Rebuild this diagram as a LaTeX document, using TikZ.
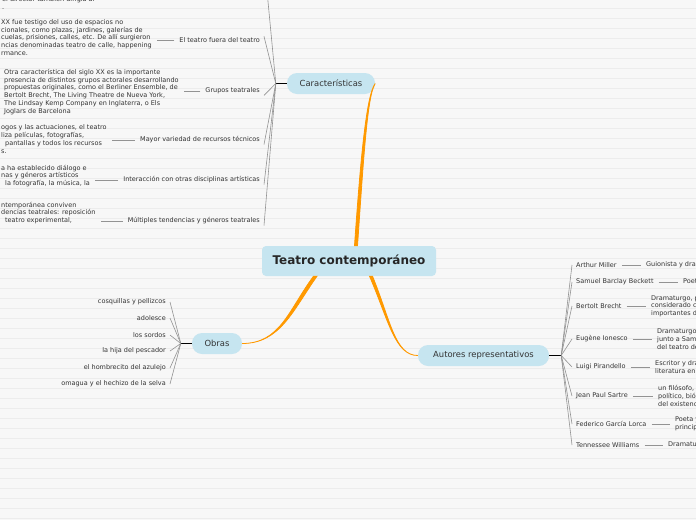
\documentclass[tikz,border=0pt]{standalone}
\usepackage{fontspec}
\setmainfont{DejaVu Sans}
\usetikzlibrary{positioning}
\definecolor{bluebox}{HTML}{C6E5F0}
\definecolor{branch}{HTML}{FF9900}
\definecolor{paper}{HTML}{F7F7F7}
\definecolor{rule}{HTML}{ECECEC}
\definecolor{ink}{HTML}{333333}
\tikzset{
  topic/.style={fill=bluebox, rounded corners=10pt, text=ink, minimum height=21pt,
    font=\fontsize{8.4}{10}\selectfont},
  leaf/.style={text=ink, font=\fontsize{6.5}{7.9}\selectfont, inner sep=1pt},
  note/.style={leaf, align=left, anchor=west},
  twig/.style={draw=gray!85, line width=0.6pt},
  bar/.style={line width=1.3pt},
  curl/.style={draw=branch, fill=branch, line width=0.8pt},
}

\begin{document}
\begin{tikzpicture}[x=1pt, y=-1pt]
    \useasboundingbox (0,0) rectangle (696,520);
    \fill[paper] (0,0) rectangle (696,520);
    \foreach \y in {8,18,...,518}
        \draw[rule, line width=0.5pt] (0,\y) -- (696,\y);

    % main topics
    \node[topic, minimum width=174pt, minimum height=30pt, rounded corners=4pt,
        text=black!85, font=\bfseries\fontsize{12}{14}\selectfont] (T) at (349,261) {Teatro contemporáneo};
    \node[topic, minimum width=88pt] (C) at (331,83.5) {Características};
    \node[topic, minimum width=50pt] (O) at (217,343.5) {Obras};
    \node[topic, minimum width=131pt] (A) at (483.5,355.5) {Autores representativos};

    % tapered branches
    \filldraw[curl] ([xshift=5.5pt]T.north) .. controls +(6,-86) and +(-9,12) .. (C.east)
        .. controls +(-8,12) and +(6,-86) .. ([xshift=8.5pt]T.north) -- cycle;
    \filldraw[curl] ([xshift=-35.5pt]T.south) .. controls +(-25,34) and +(38,0) .. (O.east)
        .. controls +(38,0) and +(-24,34) .. ([xshift=-32pt]T.south) -- cycle;
    \filldraw[curl] ([xshift=20.5pt]T.south) .. controls +(19,44) and +(-23,0) .. (A.west)
        .. controls +(-23,0) and +(18,44) .. ([xshift=23.5pt]T.south) -- cycle;

    % caracteristicas
    \coordinate (CJ) at ([xshift=-11pt]C.west);
    \draw[bar] (C.west) -- (CJ);
    \coordinate (C0) at (265,-30);
    \node[leaf, anchor=east] (C1) at (261,40) {El teatro fuera del teatro};
    \node[leaf, anchor=east] (C2) at (261,91) {Grupos teatrales};
    \node[leaf, anchor=east] (C3) at (261,140) {Mayor variedad de recursos técnicos};
    \node[leaf, anchor=east] (C4) at (261,180) {Interacción con otras disciplinas artísticas};
    \node[leaf, anchor=east] (C5) at (261,221) {Múltiples tendencias y géneros teatrales};
    \draw[twig] (CJ) -- (C0);
    \draw[twig] (CJ) -- ([xshift=3pt]C1.north east);
    \draw[twig] (CJ) -- ([xshift=3pt]C2.south east);
    \draw[twig] (CJ) -- ([xshift=3pt]C3.south east);
    \draw[twig] (CJ) -- ([xshift=3pt]C4.south east);
    \draw[twig] (CJ) -- ([xshift=3pt]C5.south east);

    \node[note] (D0) at (1,2.6) {el director también dirigía al\\.};
    \node[note] (D1) at (0,37.5) {XX fue testigo del uso de espacios no\\cionales, como plazas, jardines, galerías de\\cuelas, prisiones, calles, etc. De allí surgieron\\ncias denominadas teatro de calle, happening\\rmance.};
    \node[note] (D2) at (3,92) {Otra característica del siglo XX es la importante\\presencia de distintos grupos actorales desarrollando\\propuestas originales, como el Berliner Ensemble, de\\Bertolt Brecht, The Living Theatre de Nueva York,\\The Lindsay Kemp Company en Inglaterra, o Els\\Joglars de Barcelona};
    \node[note] (D3) at (0,139) {ogos y las actuaciones, el teatro\\liza películas, fotografías,\\\hspace*{4pt}pantallas y todos los recursos\\s.};
    \node[note] (D4) at (0,176) {a ha establecido diálogo e\\nas y géneros artísticos\\\hspace*{4pt}la fotografía, la música, la};
    \node[note] (D5) at (0,213) {ntemporánea conviven\\dencias teatrales: reposición\\\hspace*{4pt}teatro experimental,};
    \foreach \i in {1,...,5}
        \draw[twig, shorten <=4pt, shorten >=4pt] (C\i.west) -- (C\i.west -| D\i.east);

    % obras
    \coordinate (OJ) at ([xshift=-11pt]O.west);
    \draw[bar] (O.west) -- (OJ);
    \node[leaf, anchor=east] (O1) at (167,302) {cosquillas y pellizcos};
    \node[leaf, anchor=east] (O2) at (167,318) {adolesce};
    \node[leaf, anchor=east] (O3) at (167,335) {los sordos};
    \node[leaf, anchor=east] (O4) at (167,351) {la hija del pescador};
    \node[leaf, anchor=east] (O5) at (167,368) {el hombrecito del azulejo};
    \node[leaf, anchor=east] (O6) at (167,384) {omagua y el hechizo de la selva};
    \foreach \i in {1,...,6}
        \draw[twig] (OJ) -- ([xshift=3pt]O\i.east);

    % autores
    \coordinate (AJ) at ([xshift=12pt]A.east);
    \draw[bar] (A.east) -- (AJ);
    \node[leaf, anchor=west] (A1) at (575,265) {Arthur Miller};
    \node[leaf, anchor=west] (A2) at (575,282) {Samuel Barclay Beckett};
    \node[leaf, anchor=west] (A3) at (575,306) {Bertolt Brecht};
    \node[leaf, anchor=west] (A4) at (575,339) {Eugène Ionesco};
    \node[leaf, anchor=west] (A5) at (575,367) {Luigi Pirandello};
    \node[leaf, anchor=west] (A6) at (575,396) {Jean Paul Sartre};
    \node[leaf, anchor=west] (A7) at (575,424) {Federico García Lorca};
    \node[leaf, anchor=west] (A8) at (575,445) {Tennessee Williams};
    \foreach \i in {1,...,8}
        \draw[twig] (AJ) -- ([xshift=-3pt]A\i.west);

    \node[note] (B1) at (645,265) {Guionista y dramaturgo estadounidense};
    \node[note] (B2) at (682,282) {Poeta, dramaturgo y novelista irlandés};
    \node[note] (B3) at (650,306) {Dramaturgo, poeta y director alemán,\\considerado como uno de los más\\importantes del siglo XX};
    \node[note] (B4) at (656,339) {Dramaturgo francorrumano,\\junto a Samuel Beckett, figura\\del teatro del absurdo};
    \node[note] (B5) at (654,367) {Escritor y dramaturgo italiano,\\literatura en 1934};
    \node[note] (B6) at (657,396) {un filósofo, escritor, novelista,\\político, biógrafo y crítico,\\del existencialismo};
    \node[note] (B7) at (674,424) {Poeta y dramaturgo español,\\principal figura del 27};
    \node[note] (B8) at (667,445) {Dramaturgo estadounidense};
    \foreach \i in {1,...,8}
        \draw[twig, shorten <=4pt, shorten >=4pt] (A\i.east) -- (A\i.east -| B\i.west);
\end{tikzpicture}
\end{document}
